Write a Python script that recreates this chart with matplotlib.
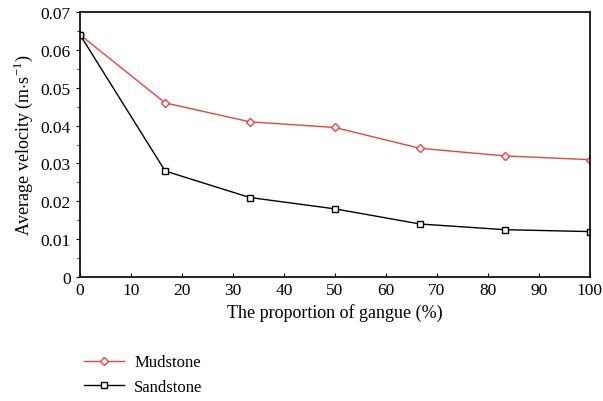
import numpy as np
import matplotlib
matplotlib.use("Agg")
import matplotlib.pyplot as plt
from matplotlib.ticker import MultipleLocator, FuncFormatter

plt.rcParams["font.family"] = ["Liberation Serif", "DejaVu Serif"]
plt.rcParams["mathtext.fontset"] = "custom"
plt.rcParams["mathtext.rm"] = "Liberation Serif"

proportion = [0, 16.7, 33.3, 50, 66.7, 83.3, 100]
mudstone = [0.064, 0.046, 0.041, 0.0395, 0.034, 0.032, 0.031]
sandstone = [0.064, 0.028, 0.021, 0.018, 0.014, 0.0125, 0.012]

fig = plt.figure(figsize=(6.03, 4.02), dpi=100)
ax = fig.add_axes([0.1327, 0.3085, 0.8454, 0.659])

ax.plot(proportion, mudstone, color="#e8453c", lw=1, marker="D", ms=4,
        mfc="white", mec="#e8453c", mew=1, label="Mudstone")
ax.plot(proportion, sandstone, color="black", lw=1, marker="s", ms=5,
        mfc="white", mec="black", mew=1, label="Sandstone")

ax.set_xlim(0, 100)
ax.set_ylim(0, 0.07)
ax.xaxis.set_major_locator(MultipleLocator(10))
ax.yaxis.set_major_locator(MultipleLocator(0.01))
ax.yaxis.set_minor_locator(MultipleLocator(0.005))
ax.yaxis.set_major_formatter(FuncFormatter(lambda v, p: "0" if abs(v) < 1e-9 else f"{v:.2f}"))
ax.tick_params(axis="x", direction="in", length=3, labelsize=12.5, top=False)
ax.tick_params(axis="y", which="major", direction="out", length=3, labelsize=12.5)
ax.tick_params(axis="y", which="minor", direction="out", length=2)

for s in ax.spines.values():
    s.set_linewidth(1.2)

ax.set_xlabel("The proportion of gangue (%)", fontsize=13)
ax.set_ylabel(r"Average velocity (m$\cdot$s$^{-1}$)", fontsize=13)

fig.legend(loc="upper left", bbox_to_anchor=(0.115, 0.153), frameon=False,
           fontsize=12, handlelength=2.4, handletextpad=0.6, labelspacing=0.5)

fig.savefig("out.png", dpi=100)
